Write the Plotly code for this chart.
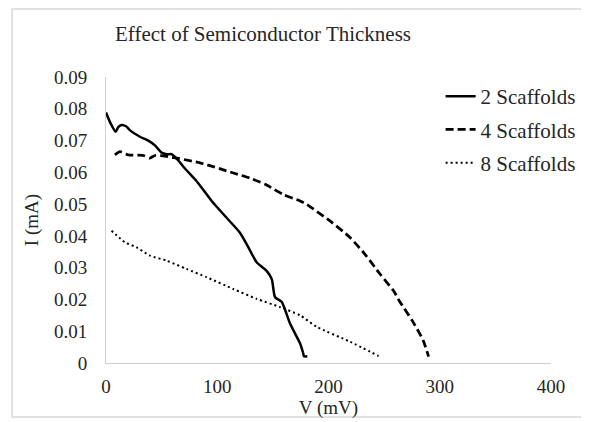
import plotly.graph_objects as go

# 2 Scaffolds
v2 = [0, 4, 8.7, 11, 14, 18, 21.6, 30.5, 38, 44, 50, 54.5, 59, 63.5, 72, 81.5, 95, 108.4, 120.4, 128, 135.4, 144.4, 149, 152, 158, 165.4, 174.4, 177.3, 178, 181]
i2 = [0.0788, 0.0755, 0.0728, 0.0742, 0.0749, 0.0745, 0.0732, 0.0712, 0.0700, 0.0685, 0.0662, 0.0657, 0.0657, 0.0643, 0.0608, 0.0572, 0.0510, 0.0457, 0.0410, 0.0364, 0.0317, 0.0290, 0.0264, 0.0207, 0.0192, 0.0124, 0.0062, 0.0030, 0.0021, 0.0021]

# 4 Scaffolds
v4 = [8, 12.6, 20, 33.6, 39.5, 44, 54.5, 84.5, 114.4, 129.4, 144.4, 159.4, 174.4, 180.4, 201.3, 219.3, 232.8, 246.3, 258.3, 264.3, 275, 285, 290]
i4 = [0.0655, 0.0665, 0.0655, 0.0653, 0.0645, 0.0653, 0.0650, 0.0630, 0.0598, 0.0582, 0.0560, 0.0530, 0.0510, 0.0499, 0.0447, 0.0395, 0.0342, 0.0280, 0.0228, 0.0192, 0.0135, 0.0072, 0.0020]

# 8 Scaffolds
v8 = [5, 17, 27.5, 39.5, 54.5, 72.4, 90.4, 114.4, 135.4, 156.4, 174.4, 189.3, 219.3, 245]
i8 = [0.0416, 0.0380, 0.0364, 0.0338, 0.0322, 0.0296, 0.0270, 0.0233, 0.0202, 0.0176, 0.0150, 0.0114, 0.0067, 0.0022]

x_ticks = [0, 100, 200, 300, 400]
y_ticks = [0, 0.01, 0.02, 0.03, 0.04, 0.05, 0.06, 0.07, 0.08, 0.09]
y_tick_text = ["0", "0.01", "0.02", "0.03", "0.04", "0.05", "0.06", "0.07", "0.08", "0.09"]

FONT = "Liberation Serif"
TXT = "#262626"

fig = go.Figure()
fig.add_trace(go.Scatter(x=v2, y=i2, mode="lines", name="2 Scaffolds", legendgroup="a",
                         line=dict(color="black", width=2.5, shape="spline", smoothing=0.6)))
fig.add_trace(go.Scatter(x=v4, y=i4, mode="lines", name="4 Scaffolds", legendgroup="b",
                         line=dict(color="black", width=2.75, dash="8px,4px", shape="spline", smoothing=0.6)))
fig.add_trace(go.Scatter(x=v8, y=i8, mode="lines", name="8 Scaffolds", legendgroup="c",
                         line=dict(color="black", width=2, dash="2px,3px", shape="spline", smoothing=0.6)))

OFF = 8  # browser body margin
L, R, T, B = 106, 551.5, 77, 363  # page coords of plot area
W, H = 589 - OFF, 422 - OFF
pw, ph = R - L, B - T


def px(x):
    return (x - L) / pw


def py(y):
    return (B - y) / ph


fig.update_layout(
    width=W, height=H,
    margin=dict(l=L - OFF, r=589 - R, t=T - OFF, b=422 - B, pad=0, autoexpand=False),
    paper_bgcolor="white", plot_bgcolor="white",
    font=dict(family=FONT, size=19, color=TXT),
    title=dict(text="Effect of Semiconductor Thickness", x=(263 - OFF) / W, xanchor="center",
               y=1 - (34 - OFF) / H, yanchor="middle",
               font=dict(family=FONT, size=21, color=TXT)),
    xaxis=dict(range=[0, 400], tickvals=x_ticks, showgrid=False, zeroline=False,
               showline=True, linecolor="#d0d0d0", linewidth=1, ticks="",
               ticklabelstandoff=6, automargin=False,
               title=dict(text="V (mV)", standoff=0, font=dict(family=FONT, size=19, color=TXT)),
               tickfont=dict(family=FONT, size=19, color=TXT)),
    yaxis=dict(range=[0, 0.09], tickvals=y_ticks, ticktext=y_tick_text, showgrid=False, zeroline=False,
               showline=True, linecolor="#d0d0d0", linewidth=1, ticks="",
               ticklabelstandoff=14, automargin=False,
               title=dict(text="I (mA)", standoff=10, font=dict(family=FONT, size=19, color=TXT)),
               tickfont=dict(family=FONT, size=19, color=TXT)),
    legend=dict(x=px(441), y=py(76), xanchor="left", yanchor="top",
                bgcolor="rgba(0,0,0,0)", font=dict(family=FONT, size=21, color=TXT),
                tracegroupgap=3, traceorder="grouped"),
    shapes=[dict(type="rect", xref="paper", yref="paper",
                 x0=px(12), x1=px(583), y0=py(417), y1=py(9),
                 line=dict(color="#d9d9d9", width=1.5), fillcolor="rgba(0,0,0,0)", layer="below")],
)

fig.write_html("out.html")
